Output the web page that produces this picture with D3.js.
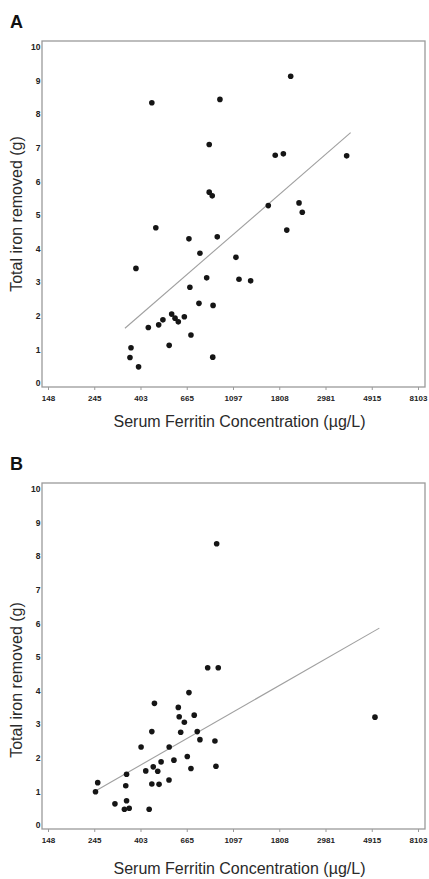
<!DOCTYPE html>
<html>
<head>
<meta charset="utf-8">
<script src="https://cdn.jsdelivr.net/npm/d3@7"></script>
<style>
  html, body { margin: 0; padding: 0; background: #fff; }
  svg { display: block; }
</style>
</head>
<body>
<div id="chart"></div>
<script>
// tick values are e^5 .. e^9 in half steps, labels as printed
const xTickValues = [148.4, 244.7, 403.4, 665.1, 1096.6, 1808.0, 2981.0, 4914.8, 8103.1];
const xTickLabels = ['148', '245', '403', '665', '1097', '1808', '2981', '4915', '8103'];
const yTicks = [0, 1, 2, 3, 4, 5, 6, 7, 8, 9, 10];

// panel A
const ferritinA = [456, 952, 2046, 848, 1731, 1890, 3747, 848, 876, 1606, 2239, 2319,
  476, 681, 925, 1961, 767, 1132, 384, 825, 1170, 1327, 688, 759, 884,
  439, 491, 514, 565, 586, 607, 648, 550, 696, 364, 360, 395, 881];
const ironA = [8.34, 8.44, 9.13, 7.10, 6.78, 6.82, 6.76, 5.68, 5.57, 5.28, 5.36, 5.08,
  4.62, 4.29, 4.35, 4.55, 3.86, 3.74, 3.41, 3.13, 3.09, 3.04, 2.85, 2.37, 2.31,
  1.65, 1.73, 1.88, 2.05, 1.93, 1.82, 1.97, 1.12, 1.43, 1.05, 0.76, 0.48, 0.77];
const fitFerritinA = [341, 3911];
const fitIronA = [1.63, 7.45];

// panel B
const ferritinB = [834, 935, 681, 469, 607, 721, 613, 648, 456, 623, 745, 767, 902,
  406, 550, 669, 579, 504, 463, 427, 486, 696, 912, 347, 549, 456, 493, 254,
  344, 248, 306, 347, 339, 357, 443, 919, 5089];
const ironB = [4.68, 4.68, 3.94, 3.62, 3.50, 3.27, 3.22, 3.06, 2.78, 2.76, 2.78, 2.54, 2.50,
  2.32, 2.32, 2.04, 1.93, 1.88, 1.73, 1.61, 1.60, 1.68, 1.75, 1.51, 1.34, 1.22, 1.21, 1.26,
  1.17, 0.99, 0.63, 0.72, 0.47, 0.50, 0.47, 8.37, 3.21];
const fitFerritinB = [249, 5334];
const fitIronB = [1.02, 5.86];

const xTitle = 'Serum Ferritin Concentration (\u00b5g/L)';
const yTitle = 'Total iron removed (g)';

const width = 429, height = 879;
const svg = d3.select('#chart').append('svg')
  .attr('width', width)
  .attr('height', height);

function setNodeAttr(node, option, type = 'attr') {
  for (let k in option) node[type](k, option[k]);
}

function drawPanel({ letter, top, ferritin, iron, fitX, fitY, yTitleShift, xTitleShift }) {
  const left = 42, right = 425, h = 346;
  const bottom = top + h;
  const g = svg.append('g');

  const x = d3.scaleLog()
    .domain([xTickValues[0], xTickValues[xTickValues.length - 1]])
    .range([left + 6, right - 7]);
  const y = d3.scaleLinear()
    .domain([0, 10])
    .range([bottom - 4, top + 6]);

  // panel letter
  g.append('text')
    .attr('x', 10).attr('y', top - 13)
    .text(letter)
    .style('font', 'bold 18px "Liberation Sans", Arial, sans-serif')
    .attr('fill', '#111');

  // frame
  const frame = g.append('rect');
  setNodeAttr(frame, {
    x: left, y: top, width: right - left, height: h,
    fill: 'none', stroke: '#9a9a9a', 'stroke-width': 1.3
  });

  // x axis
  const xAxis = d3.axisBottom(x)
    .tickValues(xTickValues)
    .tickFormat((d, i) => xTickLabels[i])
    .tickSize(3)
    .tickSizeOuter(0);
  const gx = g.append('g')
    .attr('transform', `translate(0,${bottom})`)
    .call(xAxis);
  gx.select('.domain').remove();
  gx.selectAll('line').attr('stroke', '#9a9a9a');
  gx.selectAll('text')
    .attr('dy', '0.95em')
    .style('font', 'bold 8px "Liberation Sans", Arial, sans-serif')
    .attr('fill', '#222');

  // y axis
  const yAxis = d3.axisLeft(y)
    .tickValues(yTicks)
    .tickFormat(d3.format('d'))
    .tickSize(0)
    .tickPadding(1.5);
  const gy = g.append('g')
    .attr('transform', `translate(${left},0)`)
    .call(yAxis);
  gy.select('.domain').remove();
  gy.selectAll('text')
    .style('font', 'bold 8.5px "Liberation Sans", Arial, sans-serif')
    .attr('fill', '#222');

  // axis titles
  g.append('text')
    .attr('x', (left + right) / 2 + 6)
    .attr('y', bottom + 40 + xTitleShift)
    .attr('text-anchor', 'middle')
    .style('font', '16px "Liberation Sans", Arial, sans-serif')
    .attr('fill', '#2a2a2a')
    .text(xTitle);
  g.append('text')
    .attr('transform', `translate(22,${top + h / 2 + yTitleShift}) rotate(-90)`)
    .attr('text-anchor', 'middle')
    .style('font', '16px "Liberation Sans", Arial, sans-serif')
    .attr('fill', '#2a2a2a')
    .text(yTitle);

  // fit line
  const fit = fitX.map((d, i) => [d, fitY[i]]);
  g.append('path')
    .datum(fit)
    .attr('d', d3.line().x(d => x(d[0])).y(d => y(d[1])))
    .attr('fill', 'none')
    .attr('stroke', '#a0a0a0')
    .attr('stroke-width', 1.1);

  // points
  const pts = ferritin.map((d, i) => ({ f: d, v: iron[i] }));
  g.append('g').selectAll('circle')
    .data(pts)
    .join('circle')
    .attr('cx', d => x(d.f))
    .attr('cy', d => y(d.v))
    .attr('r', 2.8)
    .attr('fill', '#151515');
}

drawPanel({ letter: 'A', top: 41, ferritin: ferritinA, iron: ironA,
  fitX: fitFerritinA, fitY: fitIronA, yTitleShift: 0, xTitleShift: 0 });
drawPanel({ letter: 'B', top: 483, ferritin: ferritinB, iron: ironB,
  fitX: fitFerritinB, fitY: fitIronB, yTitleShift: 24, xTitleShift: 5 });
</script>
</body>
</html>
